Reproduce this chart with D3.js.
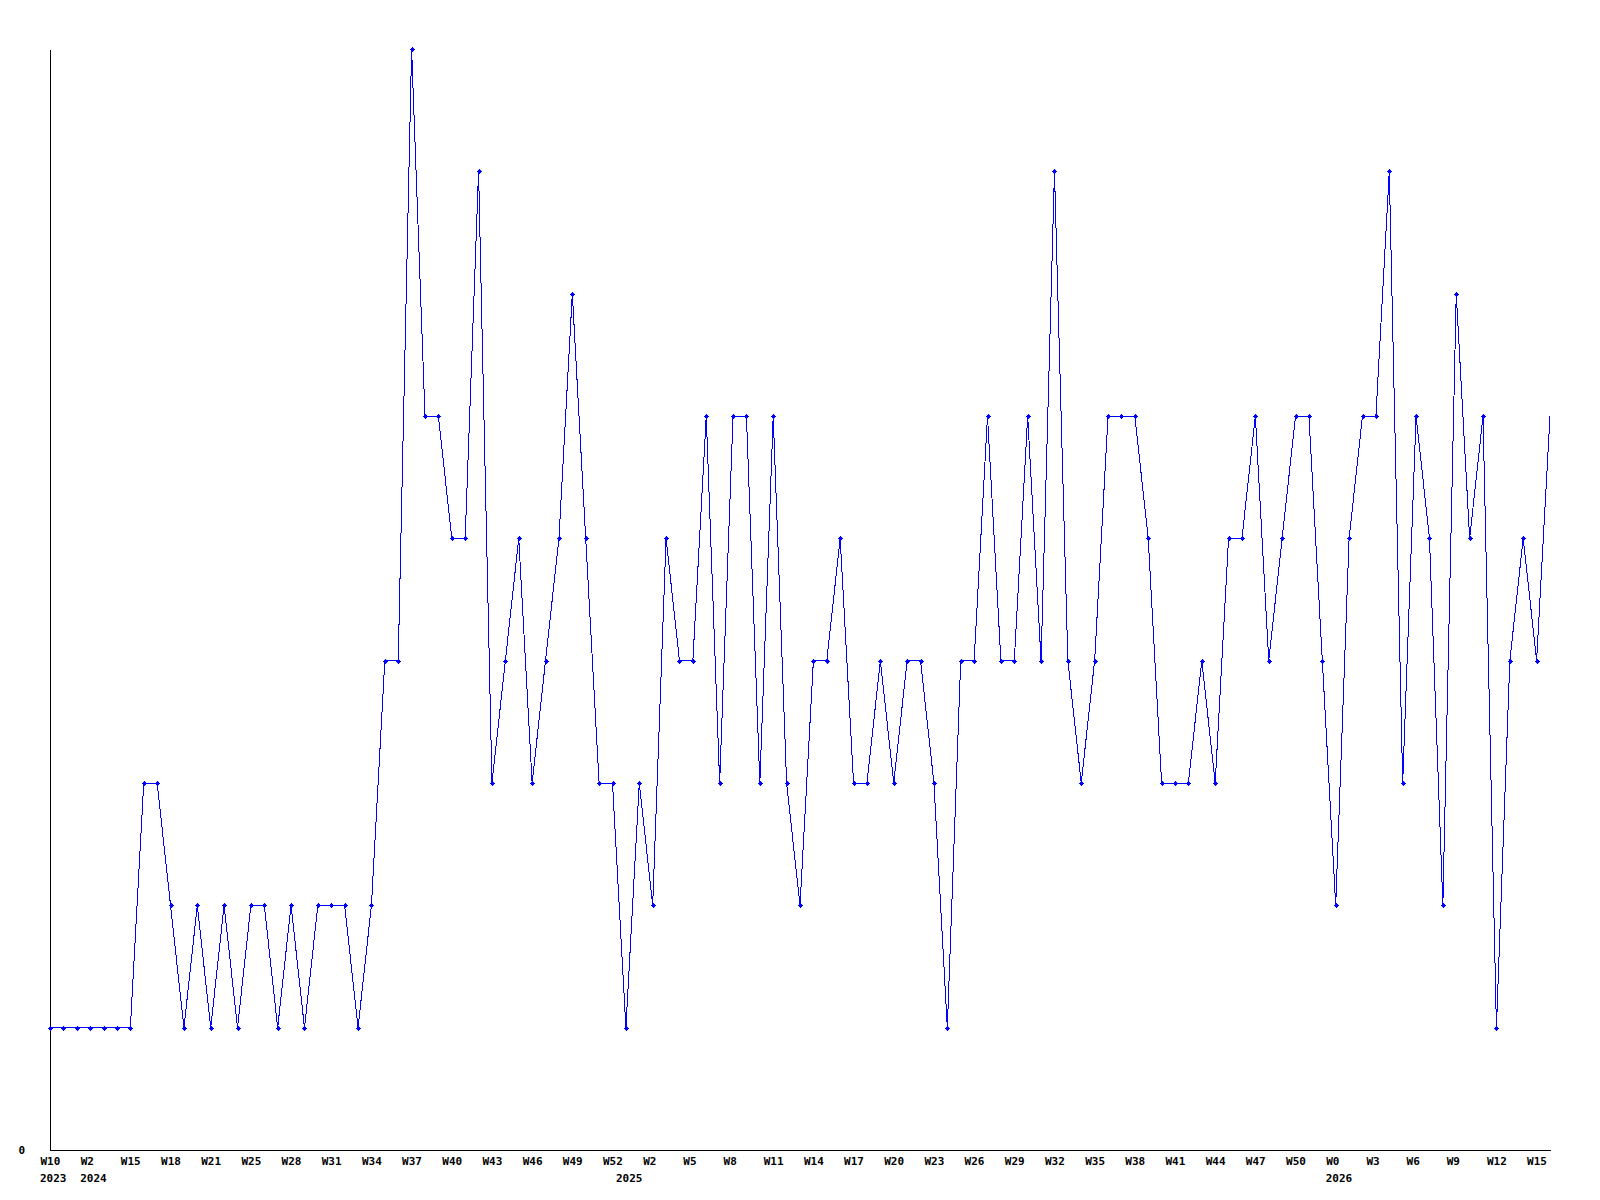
<!DOCTYPE html>
<html>
<head>
<meta charset="utf-8">
<script src="https://cdn.jsdelivr.net/npm/d3@7"></script>
<style>
  html, body { margin: 0; padding: 0; background: #fff; }
  text { font-family: "DejaVu Sans Mono", monospace; font-weight: bold; font-size: 11px; fill: #000; }
</style>
</head>
<body>
<svg id="chart" width="1600" height="1200"></svg>
<script>
// Weekly values, one per plotted point
const values = [
  1,1,1,1,1,1,1,3,3,2,
  1,2,1,2,1,2,2,1,2,1,
  2,2,2,1,2,4,4,9,6,6,
  5,5,8,3,4,5,3,4,5,7,
  5,3,3,1,3,2,5,4,4,6,
  3,6,6,3,6,3,2,4,4,5,
  3,3,4,3,4,4,3,1,4,4,
  6,4,4,6,4,8,4,3,4,6,
  6,6,5,3,3,3,4,3,5,5,
  6,4,5,6,6,4,2,5,6,6,
  8,3,6,5,2,7,5,6,1,4,
  5,4,6
];
// Week tick labels (one every third point)
const weekLabels = ["W10","W2","W15","W18","W21","W25","W28","W31","W34","W37",
  "W40","W43","W46","W49","W52","W2","W5","W8","W11","W14",
  "W17","W20","W23","W26","W29","W32","W35","W38","W41","W44",
  "W47","W50","W0","W3","W6","W9","W12","W15"];
const weekLabelEvery = 3;
// Year labels and the point they sit under
const yearLabels = ["2023","2024","2025","2026"];
const yearAtPoint = [0, 3, 43, 96];
const yTicks = [0];

const svg = d3.select("#chart");
const x = d3.scaleLinear().domain([0, values.length - 1]).range([50, 1550]);
const y = d3.scaleLinear().domain([0, 9]).range([1150, 49]);

// Y axis
const yAxis = svg.append("g")
  .attr("transform", `translate(${x(0)},0)`)
  .call(d3.axisLeft(y).tickValues(yTicks).tickSize(0).tickPadding(25).tickFormat(d3.format("d")));
yAxis.select(".domain").attr("stroke", "#000").attr("shape-rendering", "crispEdges");
yAxis.selectAll("text").attr("font-family", null).attr("font-size", null).attr("dy", "0.35em");

// X axis
const tickIdx = weekLabels.map((_, i) => i * weekLabelEvery);
const xAxis = svg.append("g")
  .attr("transform", `translate(0,${y(0)})`)
  .call(d3.axisBottom(x).tickValues(tickIdx).tickSize(0).tickPadding(14)
    .tickFormat((d, i) => weekLabels[i]));
xAxis.select(".domain").attr("stroke", "#000").attr("shape-rendering", "crispEdges");
xAxis.selectAll("text").attr("font-family", null).attr("font-size", null)
  .attr("text-anchor", "start").attr("dx", -10).attr("dy", "0.1em");

// Year labels
svg.append("g").selectAll("text").data(yearLabels).join("text")
  .attr("x", (d, i) => x(yearAtPoint[i]) - 10)
  .attr("y", y(0) + 32)
  .text(d => d);

// Line
const line = d3.line().x((d, i) => x(i)).y(d => y(d));
svg.append("path").datum(values)
  .attr("d", line)
  .attr("fill", "none")
  .attr("stroke", "#0000ff")
  .attr("stroke-width", 1)
  .attr("shape-rendering", "crispEdges");

// Markers (all but the last point)
const mk = svg.append("g").selectAll("g").data(values.slice(0, -1)).join("g")
  .attr("transform", (d, i) => `translate(${Math.round(x(i)) + 0.5},${Math.round(y(d)) + 0.5})`);
mk.append("path")
  .attr("d", "M-2.5,0H2.5M0,-2.5V2.5")
  .attr("stroke", "#0000ff")
  .attr("stroke-width", 1.2);
mk.append("rect")
  .attr("x", -1.5).attr("y", -1.5).attr("width", 3).attr("height", 3)
  .attr("fill", "#0000ff");
</script>
</body>
</html>
